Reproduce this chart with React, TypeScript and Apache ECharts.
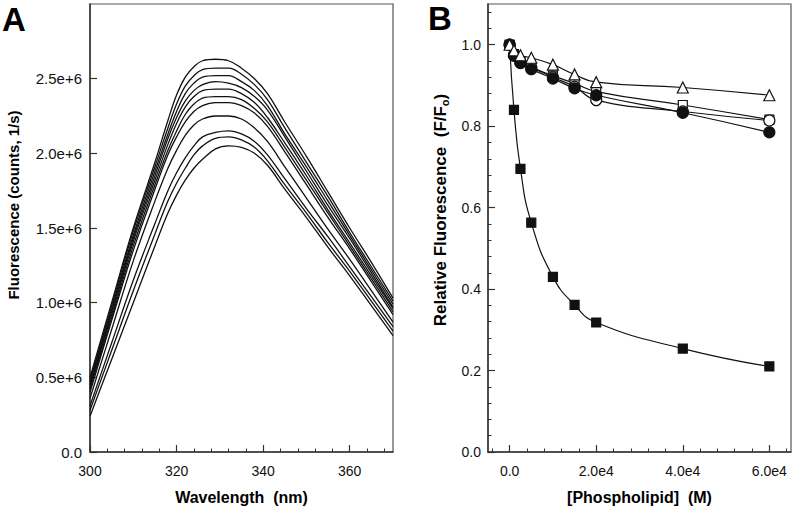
import React, { useEffect, useRef } from "react";
import * as echarts from "echarts";

// ---------- Panel A: emission spectra (values in units of 1e6 counts/s) ----------
const wavelengths = [300, 305, 310, 315, 318, 320, 322, 324, 326, 329, 332, 335, 338, 341, 345, 350, 355, 360, 365, 370];
const spectrum1 = [0.50, 1.00, 1.50, 1.94, 2.22, 2.39, 2.51, 2.58, 2.62, 2.63, 2.62, 2.57, 2.50, 2.40, 2.21, 1.98, 1.74, 1.50, 1.27, 1.03];
const spectrum2 = [0.48, 0.98, 1.48, 1.91, 2.17, 2.33, 2.45, 2.52, 2.56, 2.57, 2.57, 2.53, 2.46, 2.36, 2.17, 1.94, 1.71, 1.47, 1.24, 1.01];
const spectrum3 = [0.47, 0.96, 1.45, 1.88, 2.13, 2.28, 2.40, 2.47, 2.51, 2.52, 2.52, 2.48, 2.42, 2.32, 2.13, 1.91, 1.68, 1.45, 1.22, 0.99];
const spectrum4 = [0.45, 0.94, 1.43, 1.85, 2.10, 2.24, 2.35, 2.42, 2.46, 2.48, 2.47, 2.44, 2.38, 2.29, 2.11, 1.88, 1.65, 1.43, 1.20, 0.97];
const spectrum5 = [0.44, 0.92, 1.41, 1.82, 2.06, 2.20, 2.31, 2.38, 2.42, 2.43, 2.43, 2.40, 2.34, 2.24, 2.07, 1.85, 1.62, 1.40, 1.18, 0.96];
const spectrum6 = [0.42, 0.90, 1.38, 1.79, 2.02, 2.15, 2.26, 2.33, 2.37, 2.38, 2.38, 2.36, 2.30, 2.21, 2.04, 1.82, 1.60, 1.38, 1.16, 0.94];
const spectrum7 = [0.40, 0.88, 1.35, 1.76, 1.99, 2.11, 2.21, 2.28, 2.32, 2.34, 2.34, 2.32, 2.27, 2.18, 2.01, 1.79, 1.57, 1.36, 1.14, 0.92];
const spectrum8 = [0.36, 0.82, 1.28, 1.68, 1.90, 2.02, 2.12, 2.19, 2.23, 2.25, 2.25, 2.23, 2.17, 2.08, 1.91, 1.70, 1.49, 1.29, 1.08, 0.87];
const spectrum9 = [0.31, 0.73, 1.15, 1.53, 1.75, 1.87, 1.97, 2.05, 2.11, 2.14, 2.15, 2.13, 2.08, 1.99, 1.83, 1.63, 1.44, 1.24, 1.04, 0.84];
const spectrum10 = [0.28, 0.68, 1.08, 1.46, 1.68, 1.80, 1.90, 1.99, 2.05, 2.10, 2.11, 2.09, 2.04, 1.95, 1.79, 1.60, 1.40, 1.21, 1.01, 0.81];
const spectrum11 = [0.24, 0.62, 1.00, 1.38, 1.60, 1.72, 1.82, 1.90, 1.96, 2.03, 2.05, 2.04, 2.00, 1.92, 1.76, 1.57, 1.37, 1.18, 0.98, 0.78];
const spectra = [spectrum1, spectrum2, spectrum3, spectrum4, spectrum5, spectrum6, spectrum7, spectrum8, spectrum9, spectrum10, spectrum11];

const aXMajor = [300, 320, 340, 360];
const aXMinor = [304, 308, 312, 316, 324, 328, 332, 336, 344, 348, 352, 356, 364, 368];
const aYMajor = [0, 0.5, 1.0, 1.5, 2.0, 2.5];

// ---------- Panel B: relative fluorescence vs phospholipid ----------
const conc = [0, 1000, 2500, 5000, 10000, 15000, 20000, 40000, 60000];
const filledSquare = [1.0, 0.84, 0.695, 0.563, 0.43, 0.361, 0.318, 0.254, 0.21];
const openTriangle = [1.0, 0.986, 0.974, 0.968, 0.951, 0.927, 0.908, 0.895, 0.876];
const openSquare = [1.0, 0.977, 0.96, 0.945, 0.924, 0.905, 0.885, 0.852, 0.816];
const openCircle = [1.0, 0.975, 0.956, 0.944, 0.92, 0.897, 0.864, 0.836, 0.814];
const filledCircle = [1.0, 0.973, 0.955, 0.94, 0.917, 0.893, 0.876, 0.833, 0.785];

const bXMajor = [0, 20000, 40000, 60000];
const bXMinor = [-4000, 4000, 8000, 12000, 16000, 24000, 28000, 32000, 36000, 44000, 48000, 52000, 56000, 64000];
const bYMajor = [0, 0.2, 0.4, 0.6, 0.8, 1.0];
const bYMinor = [0.04, 0.08, 0.12, 0.16, 0.24, 0.28, 0.32, 0.36, 0.44, 0.48, 0.52, 0.56, 0.64, 0.68, 0.72, 0.76, 0.84, 0.88, 0.92, 0.96, 1.04, 1.08];

const FONT = "'Liberation Sans', Arial, Helvetica, sans-serif";
const AXIS_COLOR = "#333";

function majorAxis(extra: any, ticks: number[], fmt: (v: number) => string, margin: number, fontSize = 14) {
  return {
    type: "value",
    axisLine: { show: true, onZero: false, lineStyle: { color: AXIS_COLOR, width: 1.5 } },
    axisTick: { show: true, inside: true, length: 7, customValues: ticks, lineStyle: { color: AXIS_COLOR, width: 1.2 } },
    axisLabel: { show: true, customValues: ticks, formatter: fmt, color: "#111", fontSize, fontFamily: FONT, margin },
    splitLine: { show: false },
    ...extra,
  };
}

function minorAxis(extra: any, ticks: number[]) {
  return {
    type: "value",
    axisLine: { show: false, onZero: false },
    axisTick: { show: true, inside: true, length: 3.5, customValues: ticks, lineStyle: { color: AXIS_COLOR, width: 1 } },
    axisLabel: { show: false },
    splitLine: { show: false },
    ...extra,
  };
}

export default function App() {
  const ref = useRef<HTMLDivElement>(null);

  useEffect(() => {
    if (!ref.current) return;
    const chart = echarts.init(ref.current, undefined, { renderer: "svg" });

    const fmtA = (v: number) => (v === 0 ? "0.0" : v.toFixed(1) + "e+6");
    const fmtAx = (v: number) => String(v);
    const fmtBx = (v: number) => (v === 0 ? "0.0" : (v / 10000).toFixed(1) + "e4");
    const fmtBy = (v: number) => v.toFixed(1);

    const spectraSeries = spectra.map((s, i) => ({
      type: "line",
      name: "spectrum" + (i + 1),
      xAxisIndex: 0,
      yAxisIndex: 0,
      data: wavelengths.map((w, j) => [w, s[j]]),
      smooth: 0.4,
      showSymbol: false,
      symbol: "none",
      lineStyle: { color: "#111", width: 1.3 },
      z: 2,
    }));

    const mk = (name: string, vals: number[], symbol: string, size: number, fill: string, z: number) => ({
      type: "line",
      name,
      xAxisIndex: 2,
      yAxisIndex: 1,
      data: conc.map((c, j) => [c, vals[j]]),
      smooth: 0.5,
      symbol,
      symbolSize: size,
      showSymbol: true,
      lineStyle: { color: "#111", width: 1.2 },
      itemStyle: { color: fill, borderColor: "#111", borderWidth: 1.2 },
      z,
    });

    const option: any = {
      animation: false,
      backgroundColor: "#fff",
      grid: [
        { left: 90, top: 4, width: 303, height: 448, show: true, borderColor: "#555", borderWidth: 1.2, backgroundColor: "transparent" },
        { left: 488, top: 4, width: 303, height: 448, show: true, borderColor: "#555", borderWidth: 1.2, backgroundColor: "transparent" },
      ],
      xAxis: [
        majorAxis({ gridIndex: 0, min: 300, max: 370, position: "bottom", name: "Wavelength  (nm)", nameLocation: "middle", nameGap: 37,
          nameTextStyle: { fontSize: 16, fontWeight: "bold", fontFamily: FONT, color: "#000" } }, aXMajor, fmtAx, 12),
        minorAxis({ gridIndex: 0, min: 300, max: 370, position: "bottom" }, aXMinor),
        majorAxis({ gridIndex: 1, min: -5000, max: 65000, position: "bottom", name: "[Phospholipid]  (M)", nameLocation: "middle", nameGap: 37,
          nameTextStyle: { fontSize: 16, fontWeight: "bold", fontFamily: FONT, color: "#000" } }, bXMajor, fmtBx, 12),
        minorAxis({ gridIndex: 1, min: -5000, max: 65000, position: "bottom" }, bXMinor),
      ],
      yAxis: [
        majorAxis({ gridIndex: 0, min: 0, max: 3.0, position: "left" }, aYMajor, fmtA, 8, 15),
        majorAxis({ gridIndex: 1, min: 0, max: 1.1, position: "left" }, bYMajor, fmtBy, 7),
        minorAxis({ gridIndex: 1, min: 0, max: 1.1, position: "left" }, bYMinor),
      ],
      graphic: [
        { type: "text", left: 2, top: 3, style: { text: "A", font: `bold 33px ${FONT}`, fill: "#000" } },
        { type: "text", left: 428, top: 2, style: { text: "B", font: `bold 33px ${FONT}`, fill: "#000" } },
        {
          type: "text", x: 13, y: 205, rotation: Math.PI / 2,
          style: { text: "Fluorescence (counts, 1/s)", font: `bold 15px ${FONT}`, fill: "#000", align: "center", verticalAlign: "middle" },
        },
        {
          type: "text", x: 440, y: 210, rotation: Math.PI / 2,
          style: {
            text: "{a|Relative Fluorescence  (F/F}{b|o}{a|)}",
            align: "center", verticalAlign: "middle",
            rich: {
              a: { fontSize: 17, fontWeight: "bold", fontFamily: FONT, fill: "#000", lineHeight: 20 },
              b: { fontSize: 11, fontWeight: "bold", fontFamily: FONT, fill: "#000", lineHeight: 20, verticalAlign: "bottom", padding: [7, 0, 0, 0] },
            },
          },
        },
      ],
      series: [
        ...spectraSeries,
        mk("filled square", filledSquare, "rect", 9, "#111", 3),
        mk("open square", openSquare, "rect", 9, "#fff", 4),
        mk("open circle", openCircle, "circle", 11, "#fff", 5),
        mk("filled circle", filledCircle, "circle", 11, "#111", 6),
        mk("open triangle", openTriangle, "triangle", 11, "#fff", 7),
      ],
    };

    chart.setOption(option);
    return () => chart.dispose();
  }, []);

  return <div ref={ref} style={{ position: "fixed", left: 0, top: 0, width: 800, height: 511, background: "#fff" }} />;
}
